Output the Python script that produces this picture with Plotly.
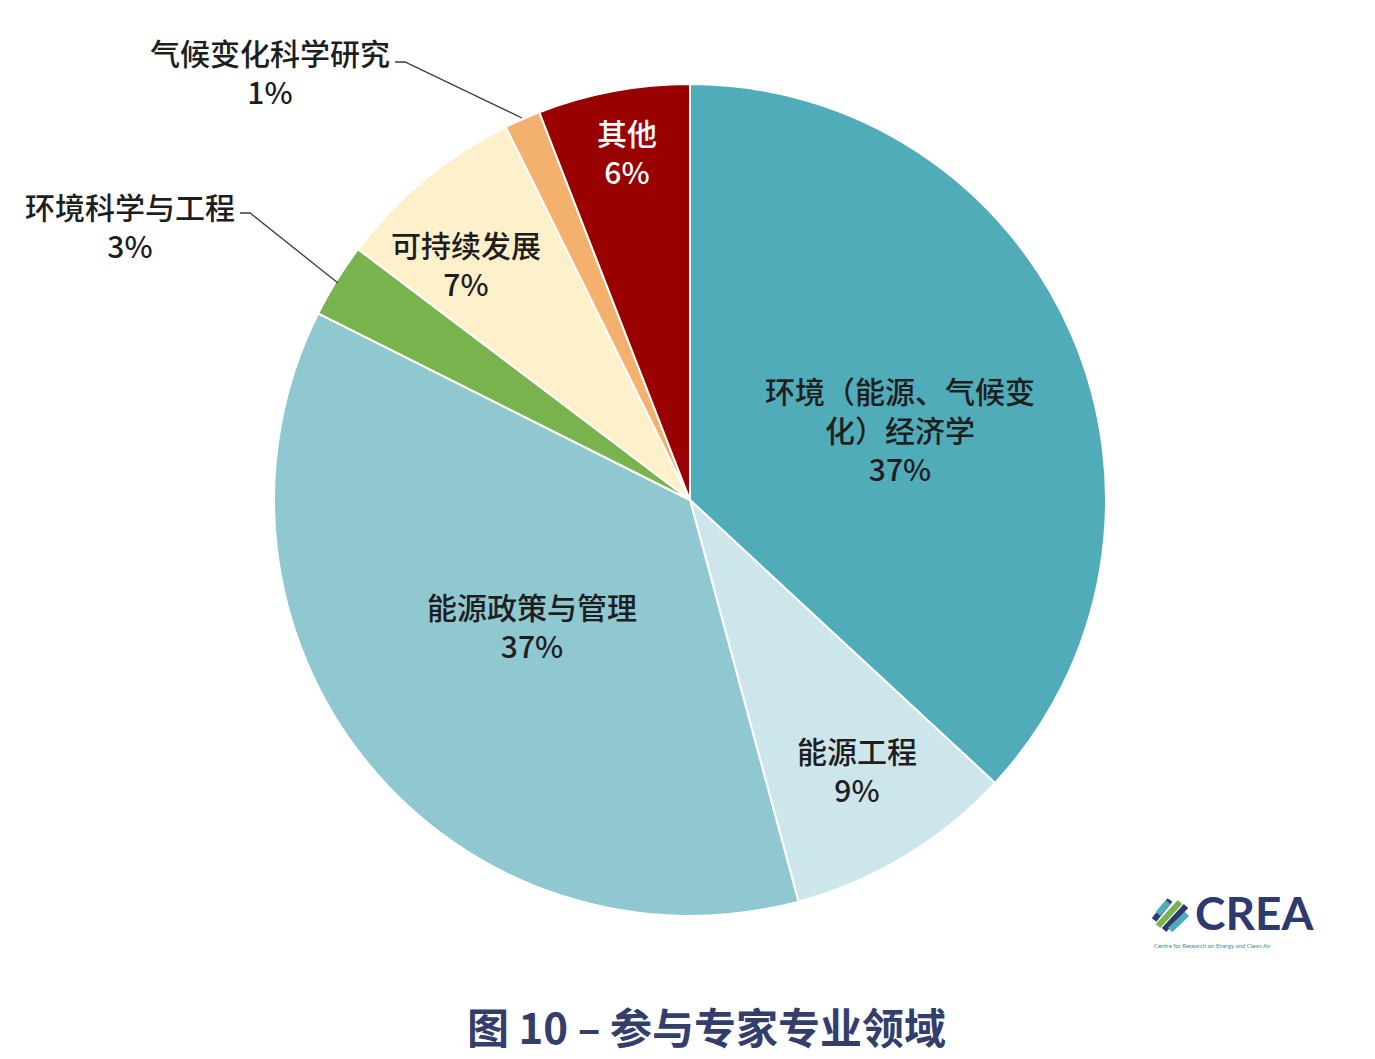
import plotly.graph_objects as go

# ---- data ----
categories = ["环境（能源、气候变化）经济学", "能源工程", "能源政策与管理",
              "环境科学与工程", "可持续发展", "气候变化科学研究", "其他"]
display_lines = [["环境（能源、气候变", "化）经济学"], ["能源工程"], ["能源政策与管理"],
                 ["环境科学与工程"], ["可持续发展"], ["气候变化科学研究"], ["其他"]]
shares = [36.9, 8.9, 36.6, 2.9, 7.4, 1.4, 5.9]
colors = ["#4FACB8", "#CDE6EB", "#8FC8D0", "#78B34E", "#FFF0CC", "#F4B06D", "#990000"]
text_colors = ["#1E1E1E"] * 6 + ["#FFFFFF"]
title_text = "图 10 – 参与专家专业领域"

W, H = 1375, 1059
def px(x): return x / W
def py(y): return 1 - y / H

# pie geometry (pixels)
cx, cy, R = 690, 500, 416

fig = go.Figure(go.Pie(
    labels=categories, values=shares, sort=False, direction="clockwise", rotation=0,
    marker=dict(colors=colors, line=dict(color="#FFFFFF", width=2)),
    textinfo="none", hoverinfo="label+percent", showlegend=False,
    domain=dict(x=[px(cx - R), px(cx + R)], y=[py(cy + R), py(cy - R)]),
))

# label anchor positions (pixel centres of first line)
label_pos = [(900, 390), (857, 750), (532, 606), (130, 206), (466, 244), (270, 52), (627, 132)]
FS = 30
line_gap = FS * 1.3
FONT = "Noto Sans CJK SC, Noto Sans, sans-serif"
annotations = []
total = sum(shares)
for lines, v, (x, y), tc in zip(display_lines, shares, label_pos, text_colors):
    pct = f"{round(v / total * 100)}%"
    all_lines = lines + [pct]
    yc = y + (len(all_lines) - 1) * line_gap / 2
    annotations.append(dict(
        x=px(x), y=py(yc), xref="paper", yref="paper",
        text="<br>".join(all_lines), showarrow=False, xanchor="center", yanchor="middle",
        align="center", font=dict(family=FONT, size=FS, color=tc, weight=500)))

# title
annotations.append(dict(x=px(706), y=py(1025), xref="paper", yref="paper",
                        text=f"<b>{title_text}</b>", showarrow=False,
                        xanchor="center", yanchor="middle",
                        font=dict(family=FONT, size=42, color="#333E6C")))
# CREA logo text
annotations.append(dict(x=px(1193), y=py(912), xref="paper", yref="paper",
                        text="<b>CREA</b>", showarrow=False, xanchor="left", yanchor="middle",
                        font=dict(family="Lato, DejaVu Sans, sans-serif", size=46, color="#2E3A6E")))
annotations.append(dict(x=px(1152), y=py(945), xref="paper", yref="paper",
                        text="Centre for Research on Energy and Clean Air", showarrow=False,
                        xanchor="left", yanchor="middle",
                        font=dict(family="Lato, sans-serif", size=6, color="#3D8DA0")))

shapes = []
# leader lines
for pts in [[(395, 62), (405, 62), (522, 118)], [(240, 213), (250, 213), (338, 283)]]:
    path = "M " + " L ".join(f"{px(x)},{py(y)}" for x, y in pts)
    shapes.append(dict(type="path", path=path, xref="paper", yref="paper",
                       line=dict(color="#3A3A3A", width=1.3)))
# logo icon (stripes)
icon = [((1154, 920), (1170, 900), "#2E3A6E"), ((1158, 926), (1180, 902), "#78B34E"),
        ((1164, 930), (1186, 906), "#2E3A6E"), ((1158, 914), (1168, 902), "#4FACB8"),
        ((1170, 930), (1187, 914), "#4FACB8")]
for (x0, y0), (x1, y1), c in icon:
    shapes.append(dict(type="line", x0=px(x0), y0=py(y0), x1=px(x1), y1=py(y1),
                       xref="paper", yref="paper", line=dict(color=c, width=6)))

fig.update_layout(
    width=W, height=H, margin=dict(l=0, r=0, t=0, b=0),
    paper_bgcolor="#FFFFFF", plot_bgcolor="#FFFFFF",
    annotations=annotations, shapes=shapes,
)
fig.write_html("out.html")
